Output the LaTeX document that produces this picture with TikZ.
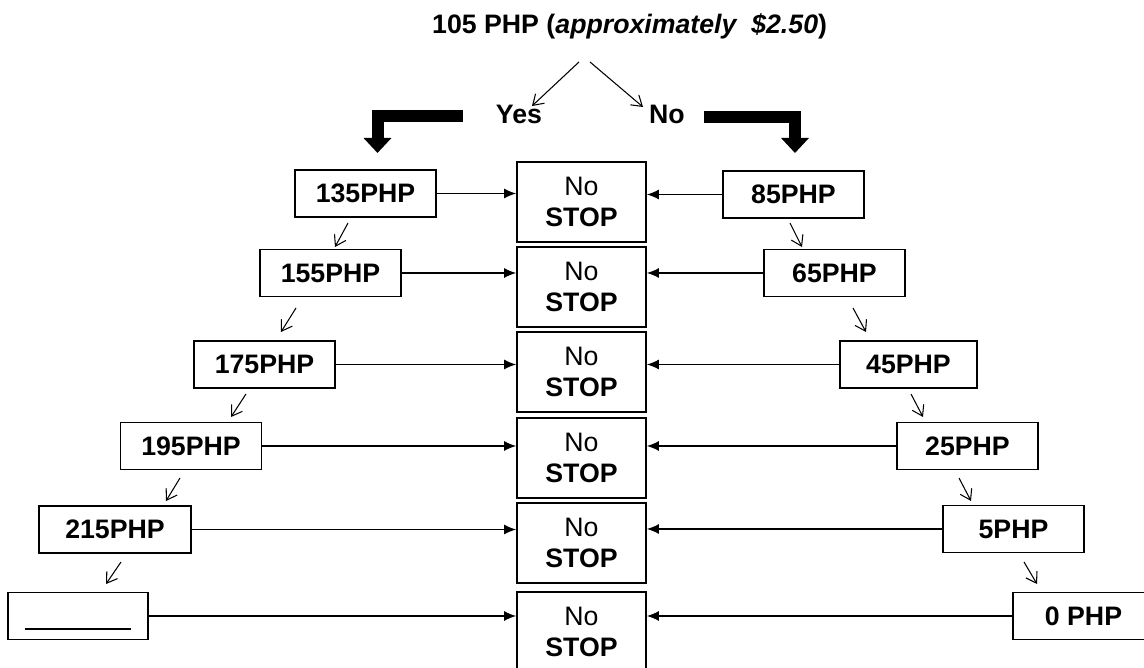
\documentclass[tikz,border=0pt]{standalone}
\usepackage{fontspec}
\setmainfont{Liberation Sans}
\usetikzlibrary{arrows.meta}

\begin{document}
\begin{tikzpicture}[x=0.02cm,y=-0.02cm]
	\tikzstyle{every node}=[font=\fontsize{15.2}{17.6}\selectfont]
	\tikzstyle{box}=[draw, line width=1.1pt, font=\fontsize{15.2}{17.6}\selectfont\bfseries, minimum width=2.82cm, minimum height=0.94cm, inner sep=0pt]
	\tikzstyle{stopbox}=[draw, line width=1.1pt, minimum width=2.58cm, minimum height=1.6cm, inner sep=0pt, align=center]
	\tikzstyle{link}=[-{Latex[length=0.24cm,width=0.2cm]}, line width=0.6pt]
	\tikzstyle{down}=[-{Straight Barb[length=0.2cm,width=0.26cm]}, line width=0.6pt]
	\tikzstyle{bigarrow}=[-{Triangle[length=0.3cm,width=0.54cm]}, line width=0.24cm, line join=miter]
	\useasboundingbox (0,0) rectangle (1144,668);

	% top
	\node[anchor=west] (title) at (426,26) {\bfseries 105 PHP (\textit{approximately\ \ \$2.50})};
	\node[font=\fontsize{15.2}{17.6}\selectfont\bfseries] (yes) at (519,114) {Yes};
	\node[font=\fontsize{15.2}{17.6}\selectfont\bfseries] (no) at (667,114) {No};
	\coordinate (ta) at (579,62);
	\coordinate (tb) at (590,62);
	\coordinate (ya) at (532,106);
	\coordinate (na) at (643,107);
	\draw[down] (ta) to (ya);
	\draw[down] (tb) to (na);

	\coordinate (yb1) at (463,116);
	\coordinate (yb2) at (377.5,116);
	\coordinate (yb3) at (377.5,153);
	\coordinate (nb1) at (704,117.5);
	\coordinate (nb2) at (795,117.5);
	\coordinate (nb3) at (795,153);
	\draw[bigarrow] (yb1) -- (yb2) -- (yb3);
	\draw[bigarrow] (nb1) -- (nb2) -- (nb3);

	% middle
	\node[stopbox] (s1) at (581.5,202) {No\\\textbf{STOP}};
	\node[stopbox] (s2) at (581.5,287) {No\\\textbf{STOP}};
	\node[stopbox] (s3) at (581.5,372) {No\\\textbf{STOP}};
	\node[stopbox] (s4) at (581.5,458) {No\\\textbf{STOP}};
	\node[stopbox] (s5) at (581.5,543) {No\\\textbf{STOP}};
	\node[stopbox] (s6) at (581.5,632) {No\\\textbf{STOP}};

	% yes side
	\node[box] (l1) at (365.5,193.5) {135PHP};
	\node[box] (l2) at (330.5,273) {155PHP};
	\node[box] (l3) at (264.5,364.5) {175PHP};
	\node[box] (l4) at (191,446) {195PHP};
	\node[box, minimum width=3.04cm] (l5) at (115,529.5) {215PHP};
	\node[box, minimum width=2.8cm] (l6) at (78,616) {};
	\draw[line width=1.1pt] (25,629) -- (131,629);

	% no side
	\node[box] (r1) at (793.5,194.5) {85PHP};
	\node[box] (r2) at (834.5,273) {65PHP};
	\node[box, minimum width=2.74cm] (r3) at (908.5,364.5) {45PHP};
	\node[box] (r4) at (967.5,446) {25PHP};
	\node[box] (r5) at (1013.5,529) {5PHP};
	\node[box] (r6) at (1083.5,616) {0 PHP};

	\draw[link] (l1.east) -- (l1.east -| s1.west);
	\draw[link] (l2.east) -- (l2.east -| s2.west);
	\draw[link] (l3.east) -- (l3.east -| s3.west);
	\draw[link] (l4.east) -- (l4.east -| s4.west);
	\draw[link] (l5.east) -- (l5.east -| s5.west);
	\draw[link] (l6.east) -- (l6.east -| s6.west);

	\draw[link] (r1.west) -- (r1.west -| s1.east);
	\draw[link] (r2.west) -- (r2.west -| s2.east);
	\draw[link] (r3.west) -- (r3.west -| s3.east);
	\draw[link] (r4.west) -- (r4.west -| s4.east);
	\draw[link] (r5.west) -- (r5.west -| s5.east);
	\draw[link] (r6.west) -- (r6.west -| s6.east);

	% small steps
	\coordinate (la1) at (348,223);  \coordinate (lb1) at (335,247);
	\coordinate (la2) at (296,308);  \coordinate (lb2) at (281,332);
	\coordinate (la3) at (246,394);  \coordinate (lb3) at (231,417);
	\coordinate (la4) at (180,478);  \coordinate (lb4) at (166,501);
	\coordinate (la5) at (121,562);  \coordinate (lb5) at (106,584);
	\draw[down] (la1) -- (lb1);
	\draw[down] (la2) -- (lb2);
	\draw[down] (la3) -- (lb3);
	\draw[down] (la4) -- (lb4);
	\draw[down] (la5) -- (lb5);

	\coordinate (ra1) at (790,223);  \coordinate (rb1) at (802,247);
	\coordinate (ra2) at (853,308);  \coordinate (rb2) at (866,332);
	\coordinate (ra3) at (911,394);  \coordinate (rb3) at (923,417);
	\coordinate (ra4) at (959,478);  \coordinate (rb4) at (971,501);
	\coordinate (ra5) at (1024,562); \coordinate (rb5) at (1037,584);
	\draw[down] (ra1) -- (rb1);
	\draw[down] (ra2) -- (rb2);
	\draw[down] (ra3) -- (rb3);
	\draw[down] (ra4) -- (rb4);
	\draw[down] (ra5) -- (rb5);
\end{tikzpicture}
\end{document}
